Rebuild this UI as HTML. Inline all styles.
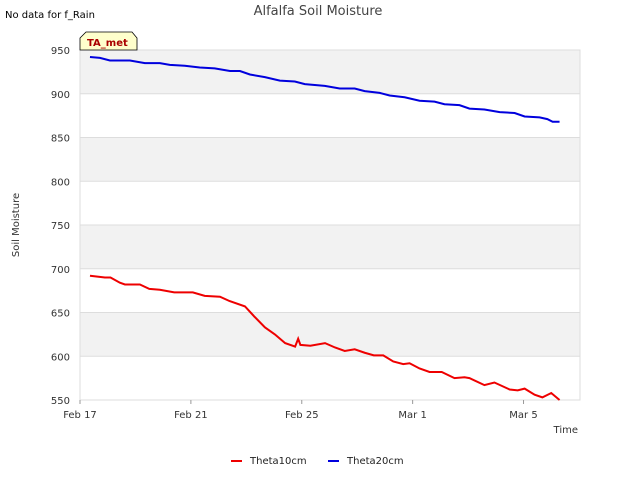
<!DOCTYPE html>
<html><head><meta charset="utf-8"><style>
body{margin:0;background:#fff;font-family:"DejaVu Sans","Liberation Sans",sans-serif}
svg text{font-family:"DejaVu Sans","Liberation Sans",sans-serif}
</style></head><body>
<svg id="c" width="640" height="480">
<text x="5" y="18" font-size="10" fill="#000">No data for f_Rain</text>
<text x="318" y="15" font-size="13" fill="#444" text-anchor="middle">Alfalfa Soil Moisture</text>
<g id="plot"></g>
<text x="19" y="225" font-size="10" fill="#333" text-anchor="middle" transform="rotate(-90 19 225)">Soil Moisture</text>
<text x="578" y="433" font-size="10" fill="#333" text-anchor="end">Time</text>
<g>
<g><rect x="231" y="460" width="11" height="2" fill="#e00"/><text x="250" y="464" font-size="10" fill="#222">Theta10cm</text></g>
<g><rect x="328" y="460" width="11" height="2" fill="#00d"/><text x="347" y="464" font-size="10" fill="#222">Theta20cm</text></g>
</g>
<g>
<path d="M80,50 L80,38 L86,32 L132,32 L137,38 L137,50 Z" fill="#ffffcc" stroke="#000" stroke-width="0.8"/>
<text x="87" y="46" font-size="10" font-weight="bold" fill="#a00">TA_met</text>
</g>
</svg>
<script>
const yTicks=[550,600,650,700,750,800,850,900,950];
const xTickLabels=["Feb 17","Feb 21","Feb 25","Mar 1","Mar 5"];
const xTickDays=[0,4,8,12,16];
const redDays=[0.36,0.9,1.1,1.44,1.62,2.16,2.5,2.88,3.4,4.07,4.5,5.05,5.4,5.95,6.3,6.67,7.03,7.4,7.76,7.87,7.95,8.31,8.84,9.2,9.55,9.91,10.27,10.6,10.94,11.3,11.66,11.89,12.25,12.61,13.05,13.51,13.87,14.05,14.59,14.95,15.5,15.79,16.04,16.4,16.68,17.0,17.3];
const redVals=[692,690,690,684,682,682,677,676,673,673,669,668,663,657,645,633,625,615,611,620,613,612,615,610,606,608,604,601,601,594,591,592,586,582,582,575,576,575,567,570,562,561,563,556,553,558,550];
const blueDays=[0.36,0.72,1.08,1.8,2.34,2.88,3.24,3.78,4.32,4.86,5.41,5.77,6.13,6.67,7.21,7.75,8.11,8.83,9.37,9.91,10.27,10.81,11.17,11.71,12.25,12.79,13.15,13.69,14.05,14.59,15.14,15.68,16.04,16.58,16.86,17.05,17.3];
const blueVals=[942,941,938,938,935,935,933,932,930,929,926,926,922,919,915,914,911,909,906,906,903,901,898,896,892,891,888,887,883,882,879,878,874,873,871,868,868];
const L=80,R=580,T=50,B=400;
const y=v=>B-(v-550)/400*(B-T);
const x=d=>L+d*27.72;
const ns="http://www.w3.org/2000/svg";
const g=document.getElementById('plot');
function mk(t,a){const e=document.createElementNS(ns,t);for(const k in a)e.setAttribute(k,a[k]);g.appendChild(e);return e;}
for(let i=0;i<yTicks.length-1;i++){
 if(i%2===1){const r=mk('rect',{x:L,y:y(yTicks[i+1]),width:R-L,height:y(yTicks[i])-y(yTicks[i+1]),fill:'#f2f2f2'});
 
 }
}
yTicks.forEach(v=>{
 const l=mk('line',{x1:L,x2:R,y1:y(v),y2:y(v),stroke:'#ddd','stroke-width':1});
 
 
 const t=mk('text',{x:L-10,y:y(v)+4,'font-size':10,fill:'#333','text-anchor':'end'});t.textContent=v;
 
 
});
const fr=mk('rect',{x:L,y:T,width:R-L,height:B-T,fill:'none',stroke:'#ddd'});


xTickDays.forEach((d,i)=>{
 const l=mk('line',{x1:x(d),x2:x(d),y1:B,y2:B+4,stroke:'#999'});
 
 
 const t=mk('text',{x:x(d),y:B+18,'font-size':10,fill:'#333','text-anchor':'middle'});t.textContent=xTickLabels[i];
 
 
});
function line(ds,vs,c,name){
 const p=mk('polyline',{points:ds.map((d,i)=>x(d)+','+y(vs[i])).join(' '),fill:'none',stroke:c,'stroke-width':2});
 
 
}
line(redDays,redVals,'#e00','theta10cm-line');
line(blueDays,blueVals,'#00d','theta20cm-line');
</script>
</body></html>
